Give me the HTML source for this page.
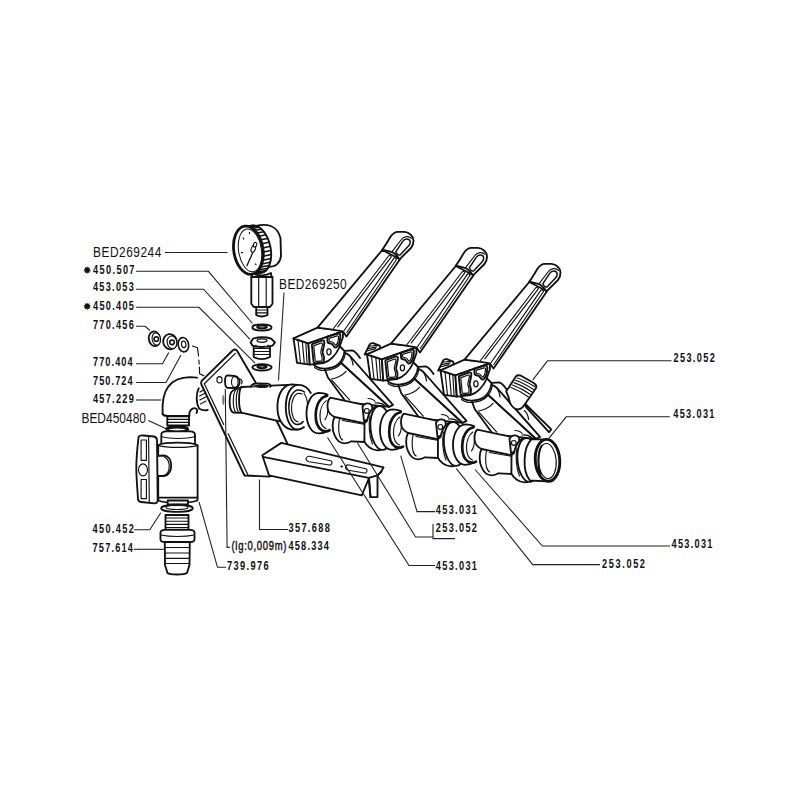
<!DOCTYPE html>
<html><head><meta charset="utf-8"><style>
html,body{margin:0;padding:0;background:#fff;}
svg{display:block;}
.b{font-family:"Liberation Sans",sans-serif;font-weight:bold;font-size:12.8px;fill:#111;}
.r{font-family:"Liberation Sans",sans-serif;font-size:14.9px;fill:#111;}
.s{font-family:"Liberation Sans",sans-serif;font-size:12.8px;fill:#111;stroke:#111;stroke-width:0.45;}
.ast{font-family:"Liberation Sans",sans-serif;font-size:9px;fill:#111;}
.ld polyline{fill:none;stroke:#222;stroke-width:1.1;}
.p{stroke:#111;stroke-width:1.85;stroke-linejoin:round;stroke-linecap:round;}
.f{fill:#fff;}
.n{fill:none;}
.t{stroke-width:1.15;}
.k{fill:#111;}
</style></head><body>
<svg width="800" height="800" viewBox="0 0 800 800">
<rect width="800" height="800" fill="#fff"/>
<g class="p">
<!-- GAUGE -->
<g id="gauge">
<path class="f" d="M256,226 C266,223.5 277,225 280.5,238 L281,256 C280,264 275,267 268,267 L258,268 Z"/>
<ellipse class="f" cx="256.6" cy="249.2" rx="14.0" ry="24.2" transform="rotate(-12 256.6 249.2)"/>
<path class="n" stroke-width="1.5" d="M247.2,226.2 L254.0,225.4 M249.8,226.9 L256.6,226.0 M252.3,228.3 L259.1,227.2 M254.8,230.3 L261.5,229.2 M257.0,233.0 L263.9,231.8 M259.0,236.2 L265.9,234.8 M260.7,239.8 L267.7,238.4 M261.9,243.8 L269.2,242.2 M262.8,247.9 L270.3,246.3 M263.3,252.1 L271.0,250.4 M263.3,256.3 L271.2,254.6 M262.8,260.2 L271.0,258.5 M261.9,263.9 L270.3,262.2 M260.6,267.1 L269.3,265.5 M258.9,269.8 L267.8,268.2 M256.9,272.0 L266.0,270.4 M254.6,273.4 L263.9,272.0"/>
<ellipse class="f" cx="248.4" cy="250.2" rx="14.6" ry="24.3" transform="rotate(-9 248.4 250.2)" stroke-width="2.8"/>
<ellipse class="n" stroke-width="1" cx="250" cy="250.4" rx="11.4" ry="21.6" transform="rotate(-9 250 250.4)"/>
<path class="n" d="M246.9,265.7 L253.3,251.5" stroke-width="1.3"/>
<ellipse class="f" stroke-width="1.1" cx="253.3" cy="248.8" rx="2" ry="3.6" transform="rotate(20 253.3 248.8)"/>
<ellipse class="f" stroke-width="1.1" cx="255" cy="244.8" rx="1.6" ry="2.4" transform="rotate(20 255 244.8)"/>
<path class="n" d="M243.2,238 l0.6,1 M249.5,232.4 l0,1.2 M241.5,252.6 l1.2,0 M255.5,264 l0.5,0.8" stroke-width="1.2"/>
<!-- stem -->
<path class="f" d="M253,273.5 C258,276 266,276 271,273 L271.5,277 L251.5,277 Z"/>
<path class="f" d="M251.3,277 L272.5,277 L272.5,303.8 L270,307 L253.8,307 L251.3,303.8 Z"/>
<path class="n t" d="M258.7,277 L258.7,307 M266.2,277 L266.2,307"/>
<path class="f" d="M256.2,307 L267.5,307 L267.5,315 C264,316.8 259.5,316.8 256.2,315 Z"/>
<path class="n t" d="M256.5,310 L267.3,310 M256.5,312.8 L267.3,312.8"/>
</g>
<!-- washer 450.507 -->
<ellipse class="f" cx="262" cy="327.4" rx="9.6" ry="3.1"/>
<ellipse class="f" cx="262" cy="326.9" rx="4.8" ry="1.4" stroke-width="2"/>
<!-- plug 453.053 -->
<path class="f" d="M253.7,345.6 L270,345.6 L270,357 C265,359.5 258.5,359.5 253.7,357 Z"/>
<path class="n t" d="M254,348.5 L269.8,348.5 M254,351.5 L269.8,351.5 M254,354.5 L269.8,354.5"/>
<path class="f" d="M250.6,342.5 L253,338.7 C258,336.8 266,336.8 271.2,338.7 L275,342.5 L272.5,345.6 C266,347.3 258,347.3 252.5,345.6 Z"/>
<ellipse class="n" cx="262" cy="340.6" rx="5" ry="1.8" stroke-width="1.3"/>
<path class="n t" d="M256,345 L256,347 M268,345 L268,347"/>
<!-- washer 450.405 -->
<ellipse class="f" cx="262" cy="367.3" rx="9.6" ry="3.2"/>
<ellipse class="f" cx="262" cy="366.8" rx="4.6" ry="1.4" stroke-width="2"/>
<!-- small nuts -->
<ellipse class="f" cx="154.4" cy="338.8" rx="5.6" ry="7.4" transform="rotate(-10 154.4 338.8)" stroke-width="1.8"/>
<ellipse class="f t" cx="156.3" cy="339" rx="4.2" ry="6.2" transform="rotate(-10 156.3 339)"/>
<circle class="n" cx="156.3" cy="339" r="2.3" stroke-width="1.6"/>
<ellipse class="f" cx="170" cy="341.7" rx="6.8" ry="7.6" transform="rotate(-10 170 341.7)" stroke-width="1.8"/>
<ellipse class="f t" cx="172" cy="342.3" rx="4.8" ry="6.4" transform="rotate(-10 172 342.3)"/>
<circle class="n" cx="172" cy="342.3" r="2.3" stroke-width="1.6"/>
<ellipse class="f" cx="183.4" cy="344.7" rx="5.2" ry="7.2" transform="rotate(-10 183.4 344.7)" stroke-width="1.6"/>
<ellipse class="n t" cx="183.7" cy="344.4" rx="2.2" ry="3.3" transform="rotate(-10 183.7 344.4)"/>
<path class="n t" d="M192.5,346 L197.5,347.8 L198.5,356 M198.8,360 L199.2,364 M199.4,367 L199.6,373.8 L203.8,375.6" stroke-dasharray="none"/>
<!-- ELBOW 457.229 -->
<path fill="#fff" stroke="none" d="M162.6,414 C162,403 163.5,393 168.5,386.3 C173.5,380 181,377.4 190,377.2 L198,377.7 L199,388 C196.5,393 196,403 199.5,408.5 L197,412.5 L190,416 L165,416 Z"/>
<path class="n" d="M162.6,414 C162,403 163.5,393 168.5,386.3 C173.5,380 181,377.4 190,377.2 L197,377.7"/>
<path class="n" d="M162.6,414 C163.3,415.5 165,416 167.5,416 L189.5,416 C189,413.5 189.8,410.5 192.3,408.8 C194,407.8 196,408.3 197,409.6 C197.3,411 197,412.3 196.5,413"/>
<path class="n" d="M198.75,388.25 C196,393 195.8,403 199.2,408.8 C202,410.3 205,410.6 207.75,410"/>
<path class="n t" d="M200,392 L203.5,390 M199.6,396 L204.5,393.5 M199.8,400 L205.5,397 M200.5,404 L206,401"/>
<!-- threads under elbow -->
<path class="f" d="M167.3,416.3 L189,416.3 L189,425.5 L167.3,425.5 Z"/>
<path class="n t" d="M167.3,419.3 L189,419.3 M167.3,422.3 L189,422.3"/>
<!-- washer BED450480 -->
<ellipse class="f" cx="177.2" cy="429.3" rx="11" ry="3.2"/>
<ellipse class="n" cx="177.2" cy="429.6" rx="9.8" ry="2.2" stroke-width="2.2"/>
<!-- VALVE top nut -->
<path class="f" d="M161.3,443.8 L161.3,435 C161.3,432.5 163,431.5 166,431.4 L190,431.4 C193.5,431.5 195,433 195,435 L195,443.8 Z"/>
<path class="n t" d="M162,436.8 C170,439 186,439 194.5,436.8"/>
<!-- valve body -->
<path class="f" d="M158.2,445 C165,441.8 190,441.8 197.6,445 L197.6,497.5 C190,501 165,501 158.2,497.5 Z"/>
<path class="n t" d="M158.5,445.6 C166,448 190,448 197.3,445.6"/>
<!-- bottom nut -->
<path class="f" d="M158.3,497.6 L158.3,500.5 C165,503.5 190,503.5 197.5,500.5 L197.5,497.6 Z"/>
<path class="f" d="M167.7,500.5 L188,500.5 L188,504.3 L167.7,504.3 Z"/>
<!-- handle stem -->
<path class="f" d="M156,456 L164,455.5 C168.5,456 171.2,460 171.2,465.5 C171.2,471 168.5,475.5 164,476 L156,476 Z"/>
<path class="n t" d="M164.5,457 C168,459 169.5,463 169.2,467 C169,471 167.5,474 164.5,475.3"/>
<!-- handle T -->
<path class="f" d="M138.6,436.8 C139.5,435.5 141,435.3 143,435.5 L154,436.5 C156,437 156.8,438 157,440 L157.7,500.5 C157.5,502.5 156.5,503.3 154.5,503.3 L141,502 C139,501.8 138.2,500.8 138,499 C137.5,490 136.3,478 136.3,468 C136.3,458 137.5,446 138.6,436.8 Z"/>
<path class="n t" d="M148.6,437.2 L149.3,502.6"/>
<path class="n t" d="M141.1,440 L146.4,440 L146.4,460.3 L141.1,460.3 Z"/>
<ellipse class="n t" cx="143" cy="469.8" rx="4.5" ry="6"/>
<path class="n t" d="M141.1,479.5 L146.4,479.5 L146.4,498.6 L141.1,498.6 Z"/>
<!-- washer 450.452 -->
<ellipse class="f" cx="177" cy="508.3" rx="15.8" ry="3.6"/>
<ellipse class="n t" cx="177" cy="507.5" rx="11" ry="2"/>
<!-- HOSE NIPPLE 757.614 -->
<path class="f" d="M165.5,515 L188.5,515 L188.5,531 L165.5,531 Z"/>
<path class="n t" d="M165.5,518 L188.5,518 M165.5,521.2 L188.5,521.2 M165.5,524.4 L188.5,524.4 M165.5,527.6 L188.5,527.6"/>
<path class="f" d="M160.5,532.5 C160.5,530.5 162,529.8 165,529.8 L190,529.8 C193,529.8 194.5,530.5 194.5,532.5 L194.5,539.5 C194.5,541 193,542 190,542 L165,542 C162,542 160.5,541 160.5,539.5 Z"/>
<path class="n t" d="M160.8,535 C170,537 185,537 194.2,535"/>
<path class="f" d="M164.8,542 L189.8,542 L189.5,565 L187,573 C184,575 170,575 167.5,573 L165,565 Z"/>
<path class="n t" d="M165,547.5 L189.7,547.5 M165,553 L189.6,553 M165,558.3 L189.5,558.3 M165.2,563.5 L189.3,563.5"/>
<!-- PLATE -->
<path class="f" d="M201.4,384.5 Q200.4,381.2 203,379.6 L232.6,350.5 Q235.3,348.3 237.2,351 L254.5,380.5 L278.7,425 L287.5,443.8 L292,468 L269.3,476.6 L244.5,475.5 Z"/>
<path class="n" d="M204.3,383.8 L235.3,353.4 M204.3,383.8 L223.7,424.5 M228.2,433.7 L247.9,474.8" stroke-width="1.2"/>
<!-- stud on plate -->
<ellipse class="n t" cx="219.5" cy="379.8" rx="2.6" ry="3.2"/>
<path class="f" d="M227.5,375.3 L234.5,376 C238.5,376.5 239.8,380 239.6,382.5 C239.3,386 237,388.3 234.5,388 L227.5,387.8 C224.5,387.5 224,375.5 227.5,375.3 Z"/>
<ellipse class="n t" cx="234.8" cy="382" rx="3.3" ry="5.4"/>
<path class="n t" d="M240,379 C242,380 242.5,382 241.5,384"/>
<!-- lgpin --><ellipse cx="223.3" cy="400" rx="1.1" ry="5" fill="#777" stroke="none"/>
<!-- PIPE 1 (BED269250) -->
<path class="f" d="M233,390.5 L241.5,387 L241.5,412.8 L233,412.5 C228.5,410 228.5,393 233,390.5 Z"/>
<path class="n t" d="M235.7,390 C232.5,394 232.5,408 235.7,412.3 M238.5,388.8 C235.5,394 235.5,407 238.5,412.5"/>
<path class="f" d="M241.3,387 L288,384.8 L292,386 L280,421.4 L241.3,412.6 C238.3,408 238.3,391 241.3,387 Z"/>
<path class="f" d="M250.8,386.8 C251.5,384.2 254.5,383.4 258,383.4 L267.5,383.6 C269.8,383.8 270.8,385 270.3,386.8"/>
<path class="k" stroke-width="1" d="M255.5,386.6 C256,385.2 258,384.9 261,384.9 L266,385 C267.8,385.1 268.3,386 267.8,386.9 C265,387.8 258.5,387.8 255.5,386.6 Z"/>
<path class="n t" d="M253,386.5 C256,384.5 268,384.5 271,386.5"/>
<path class="f" stroke="none" d="M291.5,384.3 L300,385 L304,430 L291.5,429.7 C283,428 276.5,419 277.5,404 C278.5,392 284,385 291.5,384.3 Z"/>
<path class="n" d="M298,384.8 L291.5,384.3 C284,385 278.5,392 277.5,404 C276.5,419 283,428 291.5,429.7 L297.5,429.6"/>
<path class="f" stroke="none" d="M298.5,385 C306,385 311.5,394 311.5,407 C311.5,420 306,430 298,430 C290,430 285.5,420 285.5,407 C285.5,394 291,385 298.5,385 Z"/>
<path class="n" d="M310.8,393 C308,387.5 303.5,384.8 298.5,384.8 C291,384.8 285.8,394 285.8,407 C285.8,420 291,429.5 297.5,429.5 C300,429.5 302,428.7 304,427"/>
<path class="n" stroke-width="1.5" d="M304.5,392 C302.5,390.5 300.5,390 298.5,390 C293,390 288.8,398 288.8,407.5 C288.8,417 292.5,424.5 297.5,424.5 C300,424.5 301.8,423.5 303.2,421.5"/>
<path class="n t" d="M302,394 C300.8,393.5 299.8,393.3 298.8,393.3 C294.5,393.3 291.5,400 291.5,408 C291.5,415.5 294,421.3 298,421.8"/>
<path class="n t" d="M304,393.5 C306,396 307.2,400 307.5,404"/>
<!-- BRACKET 357.688 -->
<path class="f" d="M262.3,455.2 L281.3,442.9 L383.6,467.4 L381,471.8 L377.5,475.3 L377.5,497.1 L370.5,497.1 L369,478 L361.8,495.4 L269,475.3 Z"/>
<path class="n" d="M262.9,456.9 L368.8,477.9 L377.5,475.3 M368.8,477.9 L370.5,497.1 M377.5,475.3 L381.5,471.5"/>
<path class="n t" d="M306.5,457.5 C305,459.5 306.8,461.2 309,461.7 L329.5,465 C332,465.5 333,461.8 330.8,460.8 L309.5,456.3 C308.2,456 307.2,456.5 306.5,457.5 Z"/>
<path class="n t" d="M346,466 C344.5,468 346.2,469.8 348.5,470.3 L364.5,473 C367,473.5 368,469.8 365.8,468.8 L349,465 C347.7,464.7 346.7,465 346,466 Z"/>
<circle class="k" cx="341.6" cy="466.5" r="0.8" stroke-width="0.8"/>
<defs><g id="u">
<!-- stem -->
<path class="f" d="M397.5,383 L401.3,393.2 L419.8,418.5 L462.5,422.8 L413.5,377.8 L410,376 Z"/>
<path class="n t" d="M405.3,396.2 L423.3,416.2 M404.8,395 C409,394.8 415.5,392 419.5,387.3"/>
<path class="n t" d="M441.5,414.5 C444,414.5 447,415.5 448.5,417.5 M448.5,419 C452,418.5 456,419.5 458.5,422"/>
<!-- bar -->
<path class="f" d="M413.5,377.8 L462.5,422.8 L466.5,420.8 L423.5,372 C421,369.5 418,368.5 415.5,369 Z"/>
<path class="n t" d="M423.5,372.5 C425,375 426.5,378 426.5,381"/>
<path class="n" d="M415.5,367.2 L425.5,366.3 C428.5,367 431,370 433.5,374"/>
<!-- pipe lower collar -->
<path class="f" d="M408.1,433 C405.5,437 405.5,446 408,451 C410,456 414,459.3 418,459.3 C421,459.3 423.5,458.3 425,457.3 L438,458 L440,439 L410,432 Z"/>
<path class="n t" d="M413.4,433.9 C411.8,438 411.8,446 413,451 C413.8,454 415,455.5 416.2,456"/>
<!-- upper tube -->
<path class="f" d="M403.8,413.7 L437.5,420.8 L438.5,439.3 L408.1,433 C405,431.5 401.6,428 401.1,424 C400.8,420 401,416 403.8,413.7 Z"/>
<path class="n t" d="M416,436.5 L437.5,440.2"/>
<!-- ear -->
<path class="f" d="M436,422.8 C437.5,419.5 441,418.5 444,420 C446.3,421.5 446.3,427 445.5,430 C444.5,432.8 443,434.5 440.5,435.8 L437.5,437 Z"/>
<circle class="n t" cx="440.3" cy="426.9" r="2.4"/>
<!-- flange -->
<path class="f" d="M440.5,437 L438,439 L437.9,457.6 C440,462 445,466 451,466.3 L454,466 L454,422 C448,421.5 443,425 440.5,437 Z"/>
<ellipse class="f" cx="454.5" cy="444" rx="10.5" ry="22" transform="rotate(-5 454.5 444)"/>
<path class="n t" d="M443.5,432 C442,440 442.5,452 446,460"/>
<!-- head collar -->
<path class="f" d="M386,379 C390,386 404,386.5 412,380 C415,377 417.5,372 418,367 L413,362 L388,377 Z"/>
<path class="n t" d="M388,383.5 C394,388.5 408,387 414.5,379.5 C417,376.5 418.5,372.5 419,368.5"/>
<!-- head: left ribbed face -->
<path class="f" d="M367,354.3 L381.9,359.3 L383.3,380.6 L370.5,378.8 Z"/>
<path class="n t" d="M371.5,356 L374,379.2 M375.8,357.4 L377.8,379.6 M379.3,358.5 L380.6,380"/>
<!-- head top face -->
<path class="f" d="M367,354.3 L391,343.6 L404.5,345.3 L414.5,345.4 L416.3,347.4 L381.9,359.3 Z"/>
<!-- head front face -->
<path class="f" d="M381.9,359.3 L416.3,347.4 L416.5,353 L412.6,364 C409.5,371 403,377.5 396.8,379 L383.3,380.6 Z"/>
<path class="n" stroke-width="1.9" d="M386.2,359.8 L395.8,356.4 C397.3,356.1 398,357.2 397.8,359 L397.3,362 C397,364.5 395.8,366.5 396.2,369 C396.6,371 397.8,372.5 397.5,374.5 L397.2,377 C397,378.2 396,378.7 394.5,378.8 L389.2,379.2 C387.8,379.3 387.2,378.5 387,377.2 L385.4,361.5 C385.3,360.7 385.6,360.1 386.2,359.8 Z"/>
<path class="n" stroke-width="1.9" d="M401.5,352.3 L411.3,349.6 C412.8,349.3 414,350.2 413.9,351.8 L413.3,356.8 C413,359 411.8,361.5 410.3,363 C409,364 407.6,363.2 406.8,361.6 C406,360 404.5,359.3 403,359.3 C401.6,359.3 400.9,358 400.9,356.6 L401,353.5 C401,353 401.2,352.5 401.5,352.3 Z"/>
<ellipse class="n" stroke-width="1.3" cx="402.4" cy="367.8" rx="2.1" ry="3"/>
<path class="n" stroke-width="1.2" d="M387.6,361.6 L394.8,359 C395.6,358.8 396,359.4 395.9,360.4 L395.5,362.5 C395.1,364.8 394,366.6 394.4,369 C394.7,371 395.8,372.5 395.6,374.3 L395.4,376 C395.3,376.8 394.8,377.1 394,377.1 L389.9,377.4 C389.2,377.4 388.8,377 388.7,376.2 L387.3,362.6 C387.2,362.1 387.3,361.8 387.6,361.6 Z"/>
<path class="n" stroke-width="1.2" d="M403,354.1 L410.8,351.9 C411.7,351.7 412.2,352.2 412.1,353.1 L411.6,356.7 C411.3,358.4 410.5,360.2 409.6,361 C409,361.4 408.6,361 408.2,360.2 C407.2,358.5 405.3,357.5 403.6,357.5 C402.9,357.5 402.6,357 402.6,356.3 L402.6,354.8 C402.6,354.4 402.7,354.2 403,354.1 Z"/>

<!-- handle shaft -->
<path class="f" d="M455.8,266 L473.5,275.3 L420,352.5 L416.3,347.4 L404.5,345.3 L391,343.6 Z"/>
<path class="n t" d="M462,272 L407,344.5 M464.8,272.8 L411.3,342.8 M462,272 C463,271 464.3,271.5 464.8,272.8 M467.5,274.2 L417.3,347 M470,275.5 L420.3,348.5 M467.5,274.2 C468.5,273.3 469.6,274 470,275.5"/>
<!-- handle cap -->
<path class="f" d="M455.8,265.6 C458.5,262 461.5,257 463.8,253 C466,249.5 468.5,247.8 471.5,247.8 L478,247.9 C483,248.5 486.8,252 487,256.5 C487.1,259.5 486,262 484.5,264 L473,275.3 C470,271 468,268.5 464.8,267.8 Z"/>
<path class="n t" d="M465.6,267.6 L474.5,256 C477,252 482.5,251.5 485,254.5"/>
<path class="n" stroke-width="1.5" d="M469.3,267.8 L476.2,257.4 C478.2,254 482.8,254.2 483.6,257.2 C484,259 483.2,260.6 482.2,261.8 L474,270.6 C472.3,271.8 470.2,270.2 469.3,267.8 Z"/>
</g>
<g id="teeth">
<path class="f" d="M364.6,354.6 L369.6,344.6 C370.4,343.3 371.6,342.9 373.2,343.1 L379.6,345.6 L381,351 Z"/>
<path class="n t" d="M366.6,351 L375.5,348.6 M367.8,348.6 L376.8,346.9 M369,346.3 L377.5,345.3"/>
</g>
</defs><defs>
<g id="seal">
<path fill="#fff" stroke="none" d="M10,-19 C7,-20.5 4.5,-20.7 1.5,-20.7 C-6,-20.5 -11,-11 -11,0 C-11,11 -6,19.8 1,19.8 C5,19.8 8.5,18.5 11.5,17 L12,0 Z"/>
<path class="n" d="M10,-19 C7,-20.5 4.5,-20.7 1.5,-20.7 C-6,-20.5 -11,-11 -11,0 C-11,11 -6,19.8 1,19.8 C5,19.8 8.5,18.5 11.5,17"/>
<path class="n" d="M9.6,-17.8 C7.5,-17.2 5.5,-16.3 4,-15 C0,-11 -1.8,-4 -1.8,2 C-1.8,9 0.5,14.5 4.5,16.8 C7,18 9.8,17.8 12,16.6" stroke-width="2.7"/>
<path class="n t" d="M8.8,-13 C4.5,-10 2.5,-3 2.5,2.5 C2.5,8.5 4.8,13.6 8.5,15"/>
<path class="n t" d="M10.3,-4.5 C10.5,-1 9.5,3 7.5,6"/>
</g>
</defs>
<use href="#seal" transform="translate(317.5,413.6)"/>
<use href="#u" transform="translate(-73.5,-16)"/><use href="#seal" transform="translate(391,430)"/>
<use href="#teeth"/><use href="#u"/><use href="#seal" transform="translate(464,445)"/>
<use href="#teeth" transform="translate(73.5,16)"/><use href="#u" transform="translate(73.5,16)"/><!-- end ring -->
<path class="f" d="M531.5,439.3 L546.6,439.4 L547,481.3 L530,480.5 C526,476 524.2,468 524.6,459.5 C525,450 527.5,443 531.5,439.3 Z"/>
<ellipse class="f" cx="547.5" cy="460.3" rx="12.2" ry="21" transform="rotate(-4 547.5 460.3)" stroke-width="2.9"/>
<ellipse class="n t" cx="547.2" cy="461" rx="9" ry="17.5" transform="rotate(-4 547.2 461)"/>
<path class="n" d="M541.5,446 C538,452 537.5,466 540.5,474" stroke-width="2"/>
<!-- ROD unit 3 -->
<path class="f" d="M524.8,403.5 L551.3,429.4 L549,432.2 L526.3,407.3 Z"/>
<path class="n t" d="M524.3,410.5 C526.5,412.5 528.3,416 528.5,419.5"/>
<!-- nipple on unit 3 -->
<path class="f" d="M506.2,391.3 L508.5,388 L516,376.3 C517,375.2 519,375 521,375.7 L533,382.5 C535.5,384 537,386 536,388 L530.3,396.5 L525,404 C523,407.5 520.5,409.5 517.5,409.3 C513.5,409 510,404.5 509.3,400.3 C508.8,397 507.5,394 506.2,391.3 Z"/>
<path class="n t" d="M517.2,378 C522,379.5 528,382.5 535,386.8 M515.5,380.3 C520.5,382 527,385.3 533.5,389.5 M514,382.6 C519,384.3 525.5,387.6 532,392 M512.5,385 C517.5,386.8 524,390 530.5,394.5 M511,387.5 C516,389.3 522.5,392.5 528.5,397"/>

</g>
<g class="ld">
<polyline points="165,252.5 227.5,252.5"/>
<polyline points="136,271.3 208.4,271.3 252.5,323.5"/>
<polyline points="136,289.2 203.5,289.2 250,339.3"/>
<polyline points="136,307.3 199,307.3 255,363.2"/>
<polyline points="136,326.3 145,326.3 150,330.5"/>
<polyline points="136,363.8 162.5,363.8 168.8,352.5"/>
<polyline points="136,382.5 166,382.5 181,355"/>
<polyline points="136,400 161.3,400"/>
<polyline points="148.4,420.6 169,430"/>
<polyline points="134,529.8 149.8,529.8 160.8,512.8"/>
<polyline points="134,549.3 165,549.3"/>
<polyline points="226,567.3 217.5,567.3 199,501.8"/>
<polyline points="229.8,547.4 227.1,547.4 225.3,389"/>
<polyline points="288,529.5 259.5,529.5 259.5,479.6"/>
<polyline points="284,292.5 278.5,380.5"/>
<polyline points="671.5,360.8 547.5,360.8 532.8,379.8"/>
<polyline points="669.8,416.8 566.2,416.8 548.5,438.8"/>
<polyline points="670,546 542.4,546 475,469.5"/>
<polyline points="600,564.6 532.7,564.6 456.3,468.7"/>
<polyline points="435,511.6 417,511.6 400.7,455.7"/>
<polyline points="433,524 433,538.6 455,538.6"/>
<polyline points="433,537 415.6,537 357.5,443"/>
<polyline points="435,565.5 409,565.5 327.5,437.5"/>
</g>
<g>
<text transform="translate(93,273.9) scale(0.72,1)" x="0" y="0" class="b" textLength="57.64" lengthAdjust="spacing">450.507</text>
<text transform="translate(93,291.4) scale(0.72,1)" x="0" y="0" class="b" textLength="56.67" lengthAdjust="spacing">453.053</text>
<text transform="translate(93,310.1) scale(0.72,1)" x="0" y="0" class="b" textLength="56.94" lengthAdjust="spacing">450.405</text>
<text transform="translate(93,328.9) scale(0.72,1)" x="0" y="0" class="b" textLength="56.67" lengthAdjust="spacing">770.456</text>
<text transform="translate(93,366.3) scale(0.72,1)" x="0" y="0" class="b" textLength="55.00" lengthAdjust="spacing">770.404</text>
<text transform="translate(93,384.6) scale(0.72,1)" x="0" y="0" class="b" textLength="55.00" lengthAdjust="spacing">750.724</text>
<text transform="translate(93,403.1) scale(0.72,1)" x="0" y="0" class="b" textLength="56.67" lengthAdjust="spacing">457.229</text>
<text transform="translate(92.5,532.7) scale(0.72,1)" x="0" y="0" class="b" textLength="57.36" lengthAdjust="spacing">450.452</text>
<text transform="translate(92.5,552.1) scale(0.72,1)" x="0" y="0" class="b" textLength="56.25" lengthAdjust="spacing">757.614</text>
<text transform="translate(227,570.1) scale(0.72,1)" x="0" y="0" class="b" textLength="57.78" lengthAdjust="spacing">739.976</text>
<text transform="translate(288.4,550.1) scale(0.72,1)" x="0" y="0" class="b" textLength="56.39" lengthAdjust="spacing">458.334</text>
<text transform="translate(288.4,532.1) scale(0.72,1)" x="0" y="0" class="b" textLength="57.64" lengthAdjust="spacing">357.688</text>
<text transform="translate(673.5,362.4) scale(0.72,1)" x="0" y="0" class="b" textLength="57.36" lengthAdjust="spacing">253.052</text>
<text transform="translate(673.2,418) scale(0.72,1)" x="0" y="0" class="b" textLength="57.36" lengthAdjust="spacing">453.031</text>
<text transform="translate(671.6,547.6) scale(0.72,1)" x="0" y="0" class="b" textLength="56.67" lengthAdjust="spacing">453.031</text>
<text transform="translate(602,567.7) scale(0.72,1)" x="0" y="0" class="b" textLength="59.72" lengthAdjust="spacing">253.052</text>
<text transform="translate(435.8,514.3) scale(0.72,1)" x="0" y="0" class="b" textLength="57.22" lengthAdjust="spacing">453.031</text>
<text transform="translate(435.8,532.1) scale(0.72,1)" x="0" y="0" class="b" textLength="57.22" lengthAdjust="spacing">253.052</text>
<text transform="translate(435.8,569.6) scale(0.72,1)" x="0" y="0" class="b" textLength="57.22" lengthAdjust="spacing">453.031</text>
<text transform="translate(93,256.5) scale(0.8,1)" x="0" y="0" class="r" textLength="85.38" lengthAdjust="spacing">BED269244</text>
<text transform="translate(81.4,422.7) scale(0.8,1)" x="0" y="0" class="r" textLength="80.75" lengthAdjust="spacing">BED450480</text>
<text transform="translate(279,288.6) scale(0.8,1)" x="0" y="0" class="r" textLength="84.62" lengthAdjust="spacing">BED269250</text>
<text transform="translate(231.5,549.6) scale(0.74,1)" x="0" y="0" class="s" textLength="74.32" lengthAdjust="spacing">(lg:0,009m)</text>
<polygon points="87.20,266.20 87.94,267.82 89.49,266.94 89.14,268.69 90.91,268.89 89.60,270.10 90.91,271.31 89.14,271.51 89.49,273.26 87.94,272.38 87.20,274.00 86.46,272.38 84.91,273.26 85.26,271.51 83.49,271.31 84.80,270.10 83.49,268.89 85.26,268.69 84.91,266.94 86.46,267.82" fill="#111"/>
<polygon points="87.20,302.40 87.94,304.02 89.49,303.14 89.14,304.89 90.91,305.09 89.60,306.30 90.91,307.51 89.14,307.71 89.49,309.46 87.94,308.58 87.20,310.20 86.46,308.58 84.91,309.46 85.26,307.71 83.49,307.51 84.80,306.30 83.49,305.09 85.26,304.89 84.91,303.14 86.46,304.02" fill="#111"/>
</g>
</svg>
</body></html>
